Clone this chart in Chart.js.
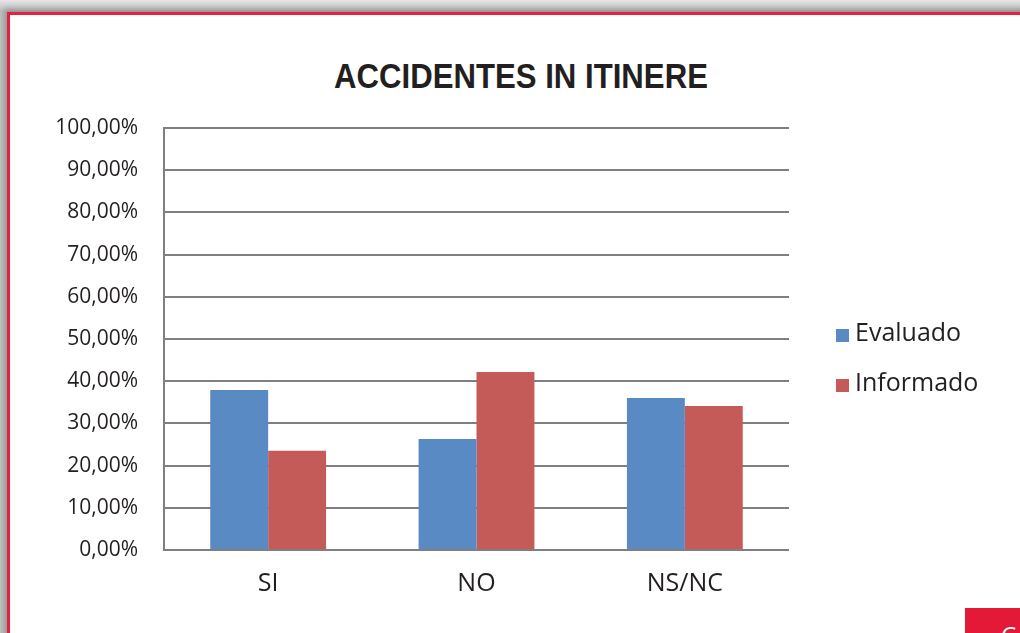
<!DOCTYPE html>
<html>
<head>
<meta charset="utf-8">
<script src="https://cdn.jsdelivr.net/npm/chart.js@4.4.0/dist/chart.umd.min.js"></script>
<style>
  html, body { margin:0; padding:0; }
  body { width:1020px; height:633px; position:relative; overflow:hidden;
         background: linear-gradient(to bottom, #e6e6e6 0px, #bdbdbd 12px, #c4c4c4 13px); }
  #frame { position:absolute; left:7px; top:12px; width:1030px; height:640px; background:#fff;
           border-left:3px solid #e8203f; border-top:3px solid #e8203f;
           box-shadow: -3px -3px 6px rgba(0,0,0,0.25); }
  #title { position:absolute; left:0; width:1042px; top:56px; text-align:center;
           font-family:'Liberation Sans',sans-serif; font-weight:bold;
           font-size:35px; color:#231f20; transform:scaleX(0.89); transform-origin:521px 0; }
  #wrap { position:absolute; left:0; top:0; width:1020px; height:633px; }
  #legend { position:absolute; left:836px; top:318px; font-family:'Open Sans',sans-serif; font-size:25px; color:#231f20; }
  .li { position:relative; height:50px; }
  .sw { position:absolute; left:0; top:11px; width:13px; height:13px; }
  .lt { position:absolute; left:19px; top:-4px; white-space:nowrap; }
  #badge { position:absolute; left:965px; top:608px; width:60px; height:30px; background:#e31937; overflow:hidden; }
  #badge span { position:absolute; left:36px; top:10px; color:#fff; font-family:'Open Sans',sans-serif; font-size:24px; }
</style>
</head>
<body>
<div id="frame"></div>
<div id="title">ACCIDENTES IN ITINERE</div>
<div id="wrap"><canvas id="c" width="1020" height="633"></canvas></div>
<div id="legend"></div>
<div id="badge"><span>C</span></div>
<script>
const categories = ['SI', 'NO', 'NS/NC'];
const seriesNames = ['Evaluado', 'Informado'];
const evaluado = [37.9, 26.3, 36.0];
const informado = [23.5, 42.2, 34.1];
const yTicks = [0, 10, 20, 30, 40, 50, 60, 70, 80, 90, 100];
const colors = ['#5a8ac3', '#c55b58'];

const leg = document.getElementById('legend');
seriesNames.forEach((n, i) => {
  const d = document.createElement('div'); d.className = 'li';
  d.innerHTML = '<div class="sw" style="background:' + colors[i] + '"></div><div class="lt">' + n + '</div>';
  leg.appendChild(d);
});

const fontFam = "'Open Sans', sans-serif";
new Chart(document.getElementById('c'), {
  type: 'bar',
  data: {
    labels: categories,
    datasets: [
      { label: seriesNames[0], data: evaluado, backgroundColor: colors[0], borderWidth: 0,
        categoryPercentage: 0.556, barPercentage: 1.0 },
      { label: seriesNames[1], data: informado, backgroundColor: colors[1], borderWidth: 0,
        categoryPercentage: 0.556, barPercentage: 1.0 }
    ]
  },
  options: {
    responsive: false,
    animation: false,
    layout: { padding: { left: 40, right: 231, top: 128, bottom: 0 } },
    plugins: { legend: { display: false }, title: { display: false }, tooltip: { enabled: false } },
    scales: {
      x: {
        grid: { display: false, drawTicks: false },
        border: { display: false },
        ticks: { color: '#231f20', font: { family: fontFam, size: 25 }, padding: 19 },
        afterFit: s => { s.height = 83; }
      },
      y: {
        min: 0, max: 100,
        afterBuildTicks: s => { s.ticks = yTicks.map(v => ({ value: v })); },
        grid: { color: '#7f7f7f', lineWidth: 2, drawTicks: false },
        border: { display: true, color: '#7f7f7f', width: 2 },
        ticks: { color: '#231f20', font: { family: fontFam, size: 21 }, padding: 26,
                 callback: v => v.toFixed(2).replace('.', ',') + '%' },
        afterFit: s => { s.width = 124; }
      }
    }
  }
});
</script>
</body>
</html>
